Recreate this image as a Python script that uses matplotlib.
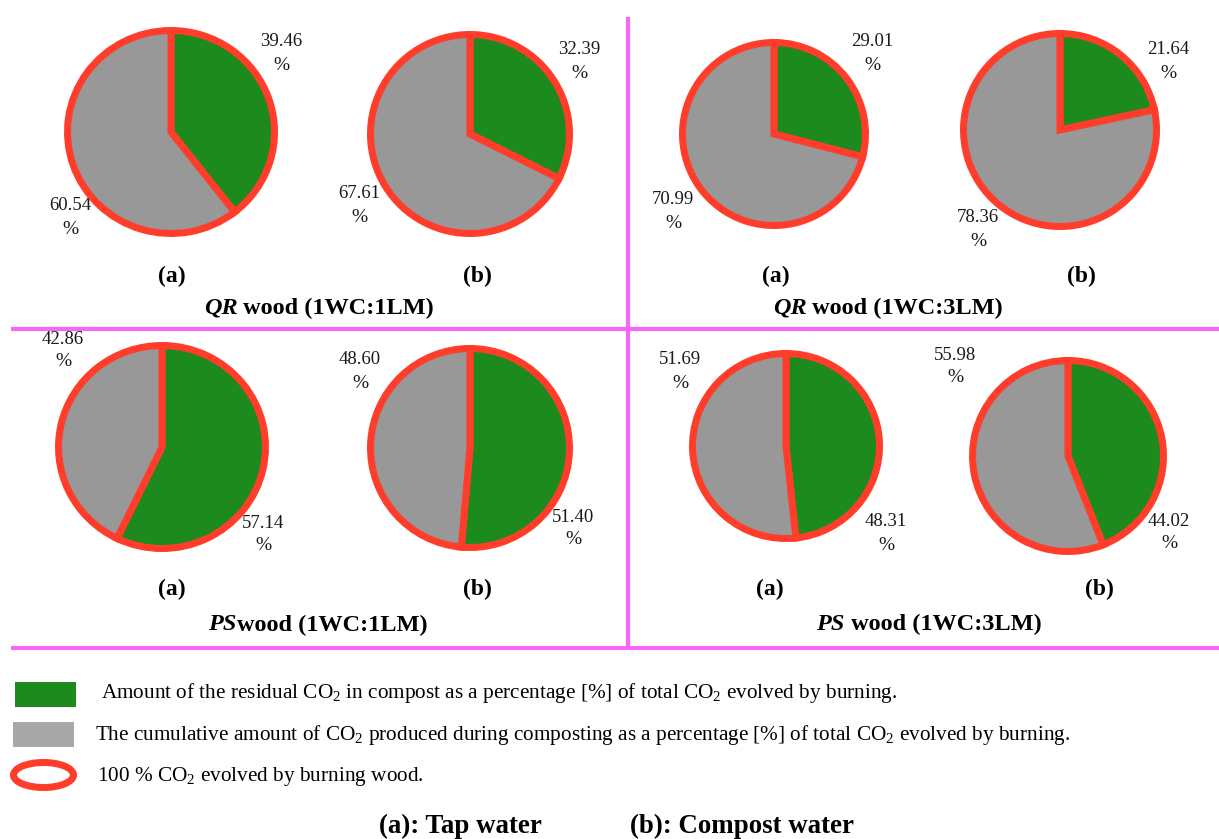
import matplotlib
matplotlib.use("Agg")
import matplotlib.pyplot as plt
from matplotlib.patches import Rectangle, Ellipse

plt.rcParams["font.family"] = ["Liberation Serif", "DejaVu Serif"]
plt.rcParams["mathtext.fontset"] = "custom"
plt.rcParams["mathtext.rm"] = "Liberation Serif"
plt.rcParams["mathtext.it"] = "Liberation Serif:italic"
plt.rcParams["mathtext.bf"] = "Liberation Serif:bold"

# ---- data ---------------------------------------------------------------
wood_types = ["QR", "QR", "PS", "PS"]
wood_ratio = ["(1WC:1LM)", "(1WC:3LM)", "(1WC:1LM)", "(1WC:3LM)"]
wood_gap = [" ", " ", "", " "]  # the PS 1:1 title has no space after the name
water_tags = ["(a)", "(b)", "(a)", "(b)", "(a)", "(b)", "(a)", "(b)"]
residual_pct = [39.46, 32.39, 29.01, 21.64, 57.14, 51.40, 48.31, 44.02]
released_pct = [60.54, 67.61, 70.99, 78.36, 42.86, 48.60, 51.69, 55.98]

legend_texts = [
    "Amount of the residual CO$_2$ in compost as a percentage [%] of total CO$_2$ evolved by burning.",
    "The cumulative amount of CO$_2$ produced during composting as a percentage [%] of total CO$_2$ evolved by burning.",
    "100 % CO$_2$ evolved by burning wood.",
]
footer_texts = ["(a): Tap water", "(b): Compost water"]

# ---- style --------------------------------------------------------------
GREEN = "#1c8a1c"
GRAY = "#989898"
GRAY_KEY = "#a8a8a8"
RED = "#ff3d2a"
PINK = "#f866f8"
W, H = 1219, 839
DPI = 100
RING_PX = 7.0

# ---- layout (pixels) ----------------------------------------------------
pie_boxes = [  # centre x, centre y, half width, half height of the outer ring
    (171, 132, 107, 105), (470, 134, 103, 103),
    (774, 134, 95, 95), (1060, 130, 100, 100),
    (162, 447, 107, 105), (470, 448, 103, 103),
    (786, 446, 97, 96), (1068, 456, 99, 99),
]
residual_label_xy = [(281, 42), (579, 50), (872, 42), (1168, 50),
                     (263, 523), (573, 517), (886, 522), (1169, 521)]
released_label_xy = [(70, 206), (359, 194), (673, 200), (978, 218),
                     (63, 339), (360, 360), (680, 360), (955, 355)]
tag_xy = [(172, 276), (477, 276), (776, 276), (1081, 276),
          (172, 589), (477, 589), (770, 589), (1099, 589)]
title_xy = [(319, 308), (888, 308), (318, 625), (929, 624)]

fig = plt.figure(figsize=(W / DPI, H / DPI), dpi=DPI)
fig.patch.set_facecolor("white")

# overlay axes in pixel coordinates for text, dividers and the key
ov = fig.add_axes([0, 0, 1, 1])
ov.set_xlim(0, W)
ov.set_ylim(H, 0)
ov.axis("off")

lw_pt = RING_PX * 72 / DPI

for i, (cx, cy, rx, ry) in enumerate(pie_boxes):
    ax = fig.add_axes([(cx - rx) / W, 1 - (cy + ry) / H, 2 * rx / W, 2 * ry / H])
    ax.pie([residual_pct[i], released_pct[i]], colors=[GREEN, GRAY],
           startangle=90, counterclock=False,
           wedgeprops=dict(edgecolor=RED, linewidth=lw_pt, joinstyle="miter"))
    ax.set_aspect("auto")
    lx = rx / (rx - RING_PX / 2)
    ly = ry / (ry - RING_PX / 2)
    ax.set_xlim(-lx, lx)
    ax.set_ylim(-ly, ly)
    ax.axis("off")

    for val, (tx, ty) in ((residual_pct[i], residual_label_xy[i]),
                          (released_pct[i], released_label_xy[i])):
        ov.text(tx, ty, f"{val:.2f}", ha="center", va="center",
                fontsize=13.5, color="#1a1a1a")
        ov.text(tx, ty + 23, "%", ha="center", va="center",
                fontsize=14, color="#1a1a1a")

    ov.text(tag_xy[i][0], tag_xy[i][1], water_tags[i], ha="center", va="center",
            fontsize=17, fontweight="bold")

# dividers between the four panels
ov.plot([628, 628], [17, 648], color=PINK, lw=3, solid_capstyle="butt")
ov.plot([11, W], [329, 329], color=PINK, lw=3, solid_capstyle="butt")
ov.plot([11, W], [648, 648], color=PINK, lw=3, solid_capstyle="butt")

# panel titles: italic species code followed by upright text, centred as one
fig.canvas.draw()
renderer = fig.canvas.get_renderer()
for k, (tx, ty) in enumerate(title_xy):
    head = ov.text(0, ty, wood_types[k], ha="left", va="center",
                   fontsize=17.5, fontweight="bold", style="italic")
    tail = ov.text(0, ty, wood_gap[k] + "wood " + wood_ratio[k],
                   ha="left", va="center", fontsize=17.5, fontweight="bold")
    w_head = head.get_window_extent(renderer).width
    w_tail = tail.get_window_extent(renderer).width
    x0 = tx - (w_head + w_tail) / 2
    head.set_x(x0)
    tail.set_x(x0 + w_head)

# key
ov.add_patch(Rectangle((15, 682), 61, 25, facecolor=GREEN, edgecolor="none"))
ov.add_patch(Rectangle((13, 722), 61, 25, facecolor=GRAY_KEY, edgecolor="none"))
ov.add_patch(Ellipse((43.5, 775), 67 - RING_PX, 32 - RING_PX, facecolor="none",
                     edgecolor=RED, linewidth=lw_pt))
for (tx, ty), txt in zip([(101, 693), (95, 735), (97, 777)], legend_texts):
    ov.text(tx, ty, txt, ha="left", va="center", fontsize=15.3)

ov.text(379, 826, footer_texts[0], ha="left", va="center", fontsize=19.4, fontweight="bold")
ov.text(630, 826, footer_texts[1], ha="left", va="center", fontsize=19.4, fontweight="bold")

fig.savefig("out.png", dpi=DPI, facecolor="white")
